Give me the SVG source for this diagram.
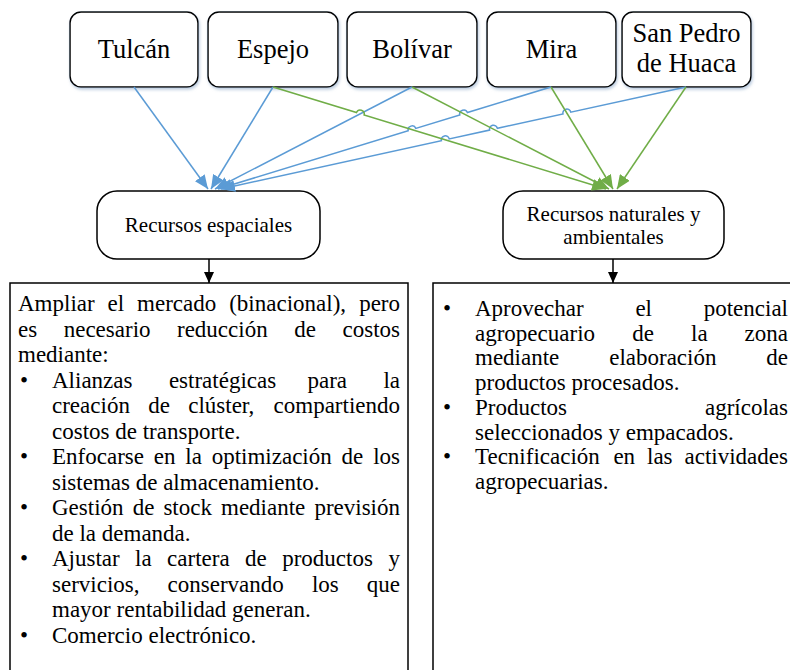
<svg xmlns="http://www.w3.org/2000/svg" width="790" height="670" viewBox="0 0 790 670">
<style>
.box{fill:#fff;stroke:#000;stroke-width:1.5}
.top,.mid,.t{font-family:'Liberation Serif',Tinos,'Times New Roman',Times,'Nimbus Roman','DejaVu Serif',serif;fill:#000}
.top{font-size:26.5px;text-anchor:middle}
.mid{font-size:21px;text-anchor:middle}
.t{font-size:23px}
.e{text-anchor:end}
.bl{fill:none;stroke:#5B9BD5;stroke-width:1.5;marker-end:url(#ab)}
.gr{fill:none;stroke:#70AD47;stroke-width:1.5;marker-end:url(#ag)}
.bk{fill:none;stroke:#000;stroke-width:1.5;marker-end:url(#ak)}
</style>
<defs>
<filter id="sh" x="-10%" y="-10%" width="125%" height="130%">
<feDropShadow dx="1" dy="2" stdDeviation="1.5" flood-color="#8fa9c9" flood-opacity="0.6"/>
</filter>
<marker id="ab" markerUnits="userSpaceOnUse" markerWidth="15" markerHeight="12" refX="14" refY="6" orient="auto"><path d="M0,0 L14,6 L0,12 z" fill="#5B9BD5"/></marker>
<marker id="ag" markerUnits="userSpaceOnUse" markerWidth="15" markerHeight="12" refX="14" refY="6" orient="auto"><path d="M0,0 L14,6 L0,12 z" fill="#70AD47"/></marker>
<marker id="ak" markerUnits="userSpaceOnUse" markerWidth="11" markerHeight="10" refX="11" refY="5" orient="auto"><path d="M0,0 L11,5 L0,10 z" fill="#000"/></marker>
</defs>
<rect width="790" height="670" fill="#fff"/>

<g id="tulcan"><rect class="box" filter="url(#sh)" x="70" y="12" width="128" height="75" rx="11"/><text class="top" x="134" y="58">Tulcán</text></g>
<g id="espejo"><rect class="box" filter="url(#sh)" x="208" y="12" width="130" height="75" rx="11"/><text class="top" x="273" y="58">Espejo</text></g>
<g id="bolivar"><rect class="box" filter="url(#sh)" x="347" y="12" width="130" height="75" rx="11"/><text class="top" x="412" y="58">Bolívar</text></g>
<g id="mira"><rect class="box" filter="url(#sh)" x="487" y="12" width="129" height="75" rx="11"/><text class="top" x="551.5" y="58">Mira</text></g>
<g id="sanpedro"><rect class="box" filter="url(#sh)" x="622" y="12" width="129" height="75" rx="11"/><text class="top" x="686.5" y="42">San Pedro</text><text class="top" x="686.5" y="72">de Huaca</text></g>

<g id="espaciales"><rect class="box" x="97" y="191" width="223" height="68" rx="20"/><text class="mid" x="208.5" y="232">Recursos espaciales</text></g>
<g id="naturales"><rect class="box" x="503" y="191" width="221" height="68" rx="20"/><text class="mid" x="613.5" y="221">Recursos naturales y</text><text class="mid" x="613.5" y="244">ambientales</text></g>

<g id="connectors">
<path class="bl" d="M134,87 L208,189"/>
<path class="bl" d="M273,87 L211,189"/>
<path class="bl" d="M412,87 L215,189"/>
<path class="bl" d="M551,87 L467.4,112.5 A4,4 0 0 0 459.8,114.9 L415.8,128.4 A4,4 0 0 0 408.2,130.8 L218,189"/>
<path class="bl" d="M686,87 L570.8,112.2 A4,4 0 0 0 563,114 L497.4,128.3 A4,4 0 0 0 489.6,130.1 L449.2,138.9 A4,4 0 0 0 441.4,140.7 L221,189"/>
<path class="gr" d="M273,87 L356.5,112.5 A4,4 0 0 1 364.1,114.9 L606,189"/>
<path class="gr" d="M412,87 L609,189"/>
<path class="gr" d="M551,87 L613,189"/>
<path class="gr" d="M686,87 L617,189"/>
<path class="bk" d="M209,259 L209,283"/>
<path class="bk" d="M613,259 L613,283"/>
</g>

<g id="left-box">
<rect x="10" y="283" width="398" height="400" fill="#fff" stroke="#000" stroke-width="1.5"/>
<text class="t" y="311"><tspan x="18">Ampliar</tspan><tspan x="107.6">el</tspan><tspan x="137.1">mercado</tspan><tspan x="229.2">(binacional),</tspan></text><text class="t e" x="400" y="311">pero</text>
<text class="t" y="336.5"><tspan x="18">es</tspan><tspan x="63.7">necesario</tspan><tspan x="177">reducción</tspan><tspan x="294.2">de</tspan></text><text class="t e" x="400" y="336.5">costos</text>
<text class="t" x="18" y="362">mediante:</text>
<text class="t" x="20" y="387.5">•</text>
<text class="t" y="387.5"><tspan x="52">Alianzas</tspan><tspan x="168.9">estratégicas</tspan><tspan x="307.5">para</tspan></text><text class="t e" x="400" y="387.5">la</text>
<text class="t" y="413"><tspan x="52">creación</tspan><tspan x="148.2">de</tspan><tspan x="188.2">clúster,</tspan></text><text class="t e" x="400" y="413">compartiendo</text>
<text class="t" x="52" y="438.5">costos de transporte.</text>
<text class="t" x="20" y="464">•</text>
<text class="t" y="464"><tspan x="52">Enfocarse</tspan><tspan x="153.8">en</tspan><tspan x="185.3">la</tspan><tspan x="211.7">optimización</tspan><tspan x="341.6">de</tspan></text><text class="t e" x="400" y="464">los</text>
<text class="t" x="52" y="489.5">sistemas de almacenamiento.</text>
<text class="t" x="20" y="515">•</text>
<text class="t" y="515"><tspan x="52">Gestión</tspan><tspan x="132.7">de</tspan><tspan x="163.4">stock</tspan><tspan x="221">mediante</tspan></text><text class="t e" x="400" y="515">previsión</text>
<text class="t" x="52" y="540.5">de la demanda.</text>
<text class="t" x="20" y="566">•</text>
<text class="t" y="566"><tspan x="52">Ajustar</tspan><tspan x="135.1">la</tspan><tspan x="167.1">cartera</tspan><tspan x="245.1">de</tspan><tspan x="282.2">productos</tspan></text><text class="t e" x="400" y="566">y</text>
<text class="t" y="591.5"><tspan x="52">servicios,</tspan><tspan x="167.6">conservando</tspan><tspan x="311.9">los</tspan></text><text class="t e" x="400" y="591.5">que</text>
<text class="t" x="52" y="617">mayor rentabilidad generan.</text>
<text class="t" x="20" y="642.5">•</text>
<text class="t" x="52" y="642.5">Comercio electrónico.</text>
</g>

<g id="right-box">
<rect x="433" y="283" width="400" height="400" fill="#fff" stroke="#000" stroke-width="1.5"/>
<text class="t" x="443" y="316">•</text>
<text class="t" y="316"><tspan x="475">Aprovechar</tspan><tspan x="635.4">el</tspan></text><text class="t e" x="788" y="316">potencial</text>
<text class="t" y="340.7"><tspan x="475">agropecuario</tspan><tspan x="632.2">de</tspan><tspan x="691">la</tspan></text><text class="t e" x="788" y="340.7">zona</text>
<text class="t" y="365.4"><tspan x="475">mediante</tspan><tspan x="609.2">elaboración</tspan></text><text class="t e" x="788" y="365.4">de</text>
<text class="t" x="475" y="390.1">productos procesados.</text>
<text class="t" x="443" y="414.8">•</text>
<text class="t" x="475" y="414.8">Productos</text><text class="t e" x="788" y="414.8">agrícolas</text>
<text class="t" x="475" y="439.5">seleccionados y empacados.</text>
<text class="t" x="443" y="464.2">•</text>
<text class="t" y="464.2"><tspan x="475">Tecnificación</tspan><tspan x="613.4">en</tspan><tspan x="647">las</tspan></text><text class="t e" x="788" y="464.2">actividades</text>
<text class="t" x="475" y="488.9">agropecuarias.</text>
</g>
</svg>
